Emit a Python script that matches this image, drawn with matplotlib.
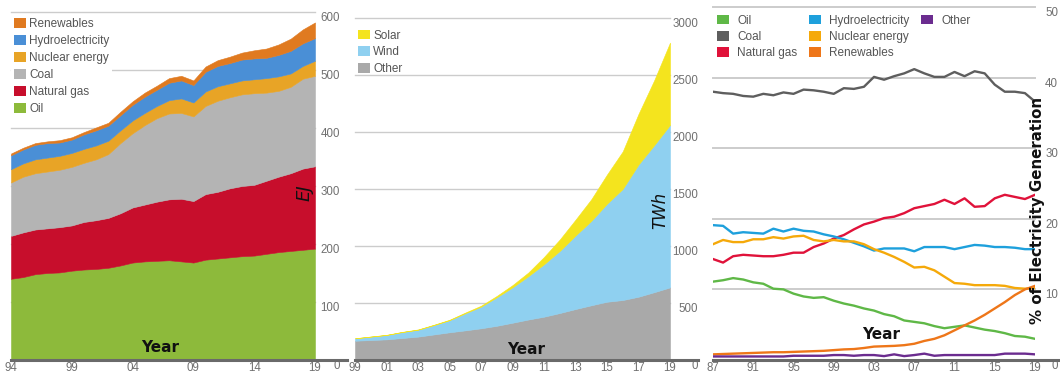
import matplotlib
matplotlib.use("Agg")
import matplotlib.pyplot as plt
from matplotlib.patches import Patch

plt.rcParams["font.family"] = ["Liberation Sans", "DejaVu Sans"]

W, H = 1060, 373

# panel 1: primary energy consumption by fuel, EJ
energy_years = list(range(1994, 2020))
oil_ej = [140, 143, 148, 150, 151, 154, 156, 157, 159, 163, 168, 170, 171, 172, 170, 168,
          173, 175, 177, 179, 180, 183, 186, 188, 190, 192]
gas_ej = [74, 77, 77, 77, 78, 78, 82, 84, 86, 90, 95, 98, 102, 105, 108, 106,
          113, 115, 119, 121, 122, 126, 130, 134, 140, 142]
coal_ej = [92, 96, 97, 98, 99, 101, 102, 105, 110, 121, 128, 137, 144, 148, 148, 146,
           152, 157, 157, 158, 158, 152, 148, 149, 155, 156]
nuclear_ej = [23, 23, 24, 24, 24, 24, 24, 24, 23, 22, 22, 21, 21, 23, 25, 24,
              25, 25, 24, 24, 24, 25, 25, 23, 22, 26]
hydro_ej = [24, 24, 25, 25, 23, 23, 25, 26, 26, 26, 27, 28, 28, 30, 31, 30,
            34, 35, 35, 36, 36, 35, 37, 39, 39, 39]
renew_ej = [3, 3, 3, 3, 4, 4, 4, 5, 5, 6, 6, 7, 7, 8, 8, 8,
            9, 10, 11, 12, 14, 16, 18, 21, 24, 27]
energy_labels = ["Oil", "Natural gas", "Coal", "Nuclear energy", "Hydroelectricity", "Renewables"]
energy_colors = ["#8dba3b", "#c70e2c", "#b4b4b4", "#e8a426", "#4a8fd6", "#e07a20"]
energy_xticks = [1994, 1999, 2004, 2009, 2014, 2019]
energy_yticks = [0, 100, 200, 300, 400, 500, 600]

# panel 2: renewable generation by source, TWh
re_years = list(range(1999, 2020))
other_twh = [169, 175, 181, 193, 205, 224, 243, 260, 278, 300, 327, 355, 380, 412, 447,
             480, 511, 526, 555, 595, 637]
wind_twh = [21, 30, 38, 52, 60, 82, 106, 150, 190, 250, 310, 380, 460, 545, 645,
            740, 860, 975, 1160, 1290, 1425]
solar_twh = [1, 1, 2, 2, 3, 3, 4, 6, 8, 12, 20, 32, 64, 100, 139,
             190, 256, 329, 444, 570, 722]
re_labels = ["Other", "Wind", "Solar"]
re_colors = ["#a9a9a9", "#8fd0f0", "#f4e41e"]
re_xticks = list(range(1999, 2020, 2))
re_yticks = [0, 500, 1000, 1500, 2000, 2500, 3000]

# panel 3: share of electricity generation, %
share_years = list(range(1987, 2020))
share_oil = [11.1, 11.3, 11.6, 11.4, 11.0, 10.8, 10.1, 10.0, 9.4, 9.0, 8.8, 8.9, 8.4, 8.0, 7.7, 7.3,
             7.0, 6.5, 6.2, 5.6, 5.4, 5.2, 4.8, 4.5, 4.7, 4.9, 4.6, 4.3, 4.1, 3.8, 3.4, 3.3, 3.0]
share_coal = [38.0, 37.8, 37.7, 37.4, 37.3, 37.7, 37.5, 37.9, 37.7, 38.3, 38.2, 38.0, 37.7, 38.5, 38.4, 38.7,
              40.1, 39.7, 40.2, 40.6, 41.2, 40.6, 40.1, 40.1, 40.8, 40.2, 40.9, 40.6, 39.0, 38.0, 38.0, 37.8, 36.6]
share_gas = [14.3, 13.8, 14.7, 14.9, 14.8, 14.7, 14.7, 14.9, 15.2, 15.2, 16.0, 16.5, 17.2, 17.7, 18.5, 19.2,
             19.6, 20.1, 20.3, 20.8, 21.5, 21.8, 22.1, 22.7, 22.1, 22.9, 21.7, 21.8, 22.9, 23.4, 23.1, 22.8, 23.4]
share_hydro = [19.1, 19.0, 17.9, 18.1, 18.0, 17.9, 18.6, 18.2, 18.6, 18.3, 18.2, 17.8, 17.5, 17.1, 16.6, 16.1,
               15.5, 15.8, 15.8, 15.8, 15.4, 16.0, 16.0, 16.0, 15.7, 16.0, 16.3, 16.2, 16.0, 16.0, 15.9, 15.7, 15.7]
share_nuclear = [16.4, 17.0, 16.7, 16.7, 17.1, 17.1, 17.4, 17.2, 17.5, 17.6, 17.0, 16.8, 17.0, 16.8, 16.8, 16.4,
                 15.7, 15.2, 14.6, 13.9, 13.1, 13.2, 12.7, 11.8, 10.9, 10.8, 10.6, 10.6, 10.6, 10.5, 10.2, 10.1, 10.2]
share_renew = [0.8, 0.85, 0.9, 0.95, 1.0, 1.05, 1.1, 1.1, 1.15, 1.2, 1.25, 1.3, 1.4, 1.5, 1.55, 1.7,
               1.9, 1.95, 2.0, 2.1, 2.3, 2.7, 3.0, 3.5, 4.2, 4.9, 5.6, 6.4, 7.3, 8.2, 9.2, 10.0, 10.5]
share_other = [0.5, 0.5, 0.5, 0.5, 0.5, 0.5, 0.5, 0.5, 0.6, 0.6, 0.6, 0.6, 0.7, 0.7, 0.6, 0.7,
               0.7, 0.55, 0.8, 0.55, 0.7, 0.9, 0.6, 0.7, 0.7, 0.7, 0.7, 0.7, 0.7, 0.9, 0.9, 0.9, 0.8]
share_labels = ["Oil", "Coal", "Natural gas", "Hydroelectricity", "Nuclear energy", "Renewables", "Other"]
share_colors = ["#5fb847", "#5e5e5e", "#e0123a", "#1ea0dc", "#f5a90a", "#ee7619", "#6b2c8f"]
share_xticks = list(range(1987, 2020, 4))
share_yticks = [0, 10, 20, 30, 40, 50]

TICK_COLOR = "#707070"
GRID_COLOR = "#cccccc"
LEGEND_TEXT = "#555555"


def make_axes(fig, left, right, top, bottom=360):
    return fig.add_axes([left / W, 1 - bottom / H, (right - left) / W, (bottom - top) / H])


def style_axis(ax, xlim, xticks, yticks, label_right_px, base_right_px, left_px, right_px, grid_lw=1.0):
    ax.set_xlim(*xlim)
    ax.set_ylim(yticks[0], yticks[-1])
    for s in ax.spines.values():
        s.set_visible(False)
    ax.set_xticks(xticks)
    ax.set_xticklabels([f"{y % 100:02d}" for y in xticks])
    ax.yaxis.tick_right()
    ax.set_yticks(yticks)
    ax.set_yticklabels([str(v) for v in yticks])
    pad_pt = (label_right_px - right_px) * 72 / 100
    ax.tick_params(axis="both", length=0, labelsize=8.3, labelcolor=TICK_COLOR)
    ax.tick_params(axis="x", pad=1.2)
    ax.tick_params(axis="y", pad=pad_pt)
    for lbl in ax.get_yticklabels():
        lbl.set_horizontalalignment("right")
        lbl.set_verticalalignment("top")
    ax.grid(axis="y", color=GRID_COLOR, linewidth=grid_lw)
    ax.grid(axis="x", visible=False)
    ax.set_axisbelow(True)
    for gl in ax.get_ygridlines():
        gl.set_clip_on(False)
    ext = (base_right_px - left_px) / (right_px - left_px)
    ax.axhline(0, xmin=0, xmax=ext, color="#6a6a6a", linewidth=2.2, clip_on=False, zorder=5)


def year_label(ax, x, y):
    ax.text(x, y, "Year", transform=ax.transAxes, ha="center", va="center",
            fontsize=11, fontweight="bold", family="DejaVu Sans", color="#111111", zorder=6)


def main():
    fig = plt.figure(figsize=(W / 100, H / 100), dpi=100)

    # panel 1
    ax1 = make_axes(fig, 11, 315, 12)
    polys = ax1.stackplot(energy_years, oil_ej, gas_ej, coal_ej, nuclear_ej, hydro_ej, renew_ej,
                          colors=energy_colors, linewidth=0.4)
    for p, c in zip(polys, energy_colors):
        p.set_edgecolor(c)
    style_axis(ax1, (1994, 2019), energy_xticks, energy_yticks, 340, 347, 11, 315)
    handles = [Patch(facecolor=c, label=l) for c, l in zip(energy_colors, energy_labels)][::-1]
    leg = ax1.legend(handles=handles, loc="upper left", bbox_to_anchor=(0.0, 0.99),
                     frameon=True, facecolor="white", edgecolor="none", framealpha=1, fancybox=False,
                     fontsize=8.5, labelcolor=LEGEND_TEXT, handlelength=1.0, handleheight=0.9,
                     handletextpad=0.3, labelspacing=0.42, borderpad=0.25, borderaxespad=0)
    leg.set_zorder(4)
    year_label(ax1, 0.49, 0.035)
    ax1.text(0.967, 0.48, "EJ", transform=ax1.transAxes, rotation=90, ha="center", va="center",
             fontsize=13, fontstyle="italic", family="DejaVu Sans", color="#111111")

    # panel 2
    ax2 = make_axes(fig, 355, 670, 18)
    polys = ax2.stackplot(re_years, other_twh, wind_twh, solar_twh, colors=re_colors, linewidth=0.4)
    for p, c in zip(polys, re_colors):
        p.set_edgecolor(c)
    style_axis(ax2, (1999, 2019), re_xticks, re_yticks, 698, 698, 355, 670)
    handles = [Patch(facecolor=c, label=l) for c, l in zip(re_colors, re_labels)][::-1]
    ax2.legend(handles=handles, loc="upper left", bbox_to_anchor=(0.0, 0.975),
               frameon=False, fontsize=8.5, labelcolor=LEGEND_TEXT, handlelength=1.0,
               handleheight=0.9, handletextpad=0.3, labelspacing=0.42, borderpad=0.25, borderaxespad=0)
    year_label(ax2, 0.543, 0.03)
    ax2.text(0.968, 0.436, "TWh", transform=ax2.transAxes, rotation=90, ha="center", va="center",
             fontsize=12, fontstyle="italic", family="DejaVu Sans", color="#111111")

    # panel 3
    ax3 = make_axes(fig, 713, 1035, 7)
    series = [share_oil, share_coal, share_gas, share_hydro, share_nuclear, share_renew, share_other]
    for vals, c, l in zip(series, share_colors, share_labels):
        ax3.plot(share_years, vals, color=c, linewidth=1.7, label=l, solid_joinstyle="round")
    style_axis(ax3, (1987, 2019), share_xticks, share_yticks, 1058, 1060, 713, 1035, grid_lw=1.4)
    handles = [Patch(facecolor=c, label=l) for c, l in zip(share_colors, share_labels)]
    # two empty slots so the columns split 3 / 3 / 1
    handles += [Patch(facecolor="none", edgecolor="none", label=" ") for _ in range(2)]
    ax3.legend(handles=handles, loc="upper left", bbox_to_anchor=(0.005, 0.985), ncol=3,
               frameon=False, fontsize=8.5, labelcolor=LEGEND_TEXT, handlelength=1.0,
               handleheight=0.9, handletextpad=0.7, labelspacing=0.36, columnspacing=1.0,
               borderpad=0.2, borderaxespad=0)
    year_label(ax3, 0.522, 0.071)
    ax3.text(1.008, 0.4235, "% of Electricity Generation", transform=ax3.transAxes, rotation=90,
             ha="center", va="center", fontsize=10.8, fontweight="bold", family="DejaVu Sans",
             color="#111111", zorder=6)

    fig.savefig("out.png", dpi=100)
    plt.close(fig)


if __name__ == "__main__":
    main()
